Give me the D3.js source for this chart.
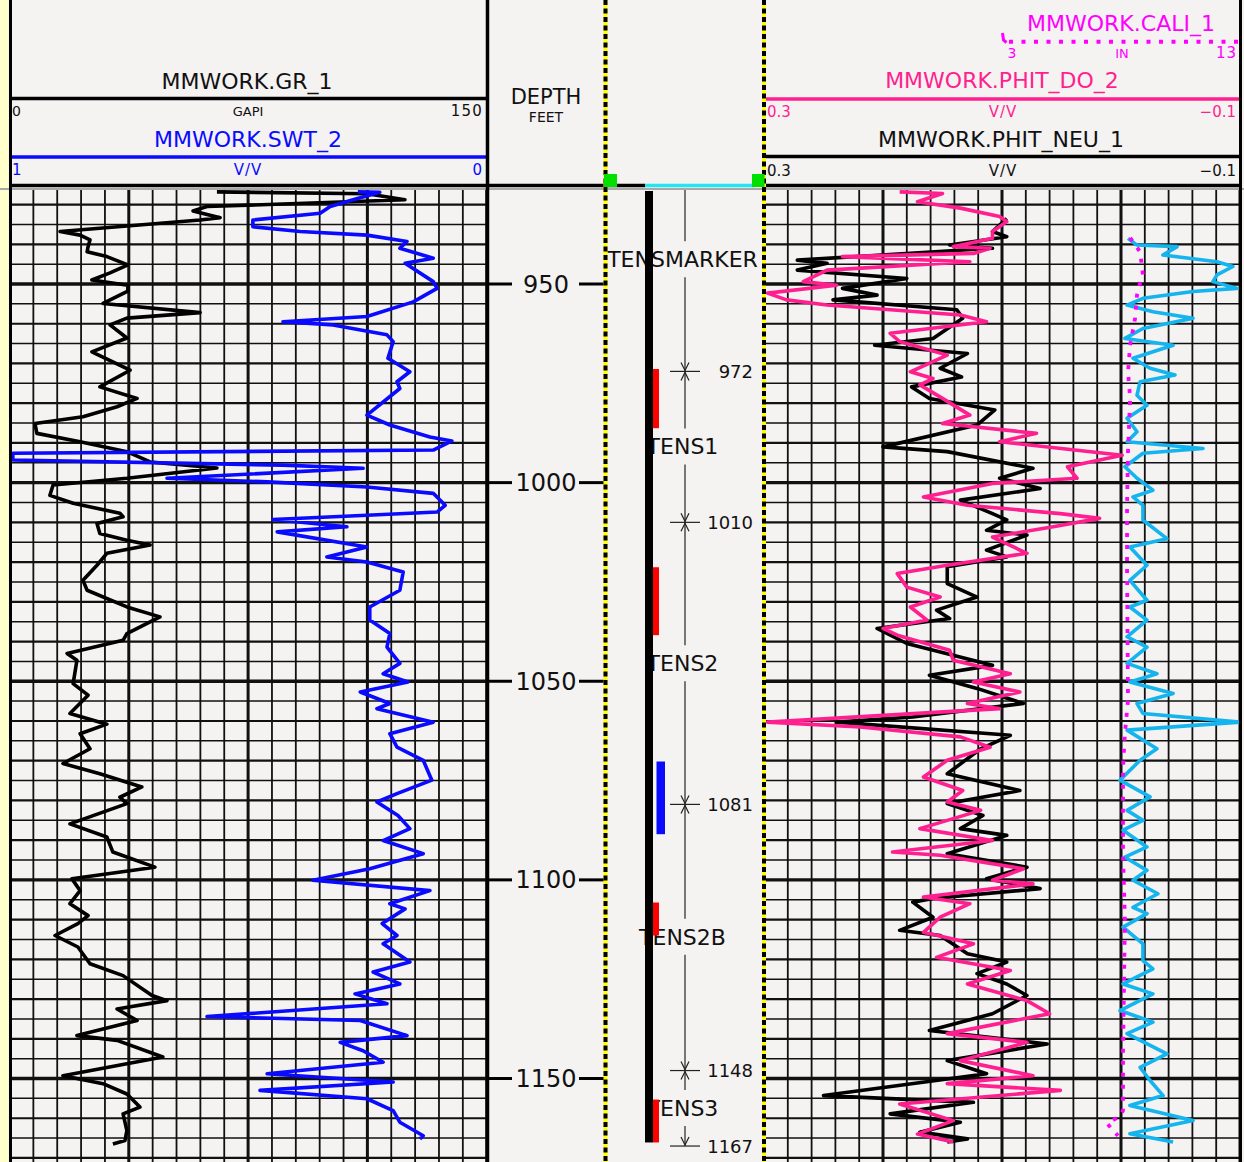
<!DOCTYPE html>
<html>
<head>
<meta charset="utf-8">
<script src="https://cdn.jsdelivr.net/npm/d3@7"></script>
<style>
  html, body { margin: 0; padding: 0; background: #f5f2f2; }
  svg { display: block; }
  text { font-family: "DejaVu Sans", "Liberation Sans", sans-serif; }
</style>
</head>
<body>
<svg id="log" width="1244" height="1162"></svg>
<script>
// ---------------- curve data: [depth (ft), value] ----------------
const grCurve = [
  [926.8,65.2],[927.3,112.4],[928.8,124.3],[930.5,62.1],[931.6,57.7],[933.3,66.2],[933.9,59.9],[936.8,15.9],
  [937.7,22.2],[938.9,25.3],[940.6,24.7],[941.9,24.4],[943.1,30.6],[945.2,37.2],[947.2,31.6],[949.0,25.9],
  [950.3,37.2],[951.8,37.2],[954.9,29.4],[957.2,59.9],[958.6,36.9],[960.3,31.6],[963.6,36.9],[967.1,25.9],
  [971.7,37.9],[975.9,28.4],[978.8,40.1],[980.9,33.8],[983.4,23.1],[985.1,8.0],[987.6,8.6],[989.7,22.2],
  [992.2,36.9],[994.8,44.2],[996.3,65.2],[998.9,36.9],[1000.6,13.7],[1003.2,12.7],[1005.2,20.0],[1007.7,34.7],
  [1008.6,35.7],[1010.3,27.5],[1012.8,28.4],[1014.5,36.9],[1015.7,44.2],[1017.8,30.6],[1020.8,27.5],[1024.6,23.1],
  [1027.1,24.4],[1031.3,36.9],[1033.8,47.3],[1038.0,36.9],[1039.7,35.7],[1043.0,18.1],[1044.7,21.2],[1050.6,20.0],
  [1053.5,24.7],[1058.1,19.0],[1060.8,30.6],[1063.2,22.2],[1067.0,25.3],[1070.7,16.8],[1073.3,28.4],[1076.6,41.6],
  [1079.2,34.7],[1080.8,36.9],[1085.9,19.0],[1089.2,30.6],[1093.0,32.5],[1096.8,45.7],[1099.7,19.6],[1102.7,22.2],
  [1106.0,19.0],[1109.0,24.7],[1111.0,21.5],[1114.0,14.3],[1116.9,21.5],[1121.1,25.3],[1124.1,35.7],[1129.1,44.8],
  [1130.4,49.5],[1132.5,33.8],[1135.4,40.1],[1139.2,21.2],[1140.4,33.8],[1144.6,48.2],[1149.3,16.8],[1151.3,29.4],
  [1153.9,36.9],[1157.2,41.0],[1158.9,35.7],[1163.1,36.9],[1165.6,36.3],[1166.5,32.5]
];

const swtCurve = [
  [926.8,0.270],[926.9,0.224],[928.8,0.280],[930.5,0.328],[932.2,0.349],[933.9,0.490],[935.6,0.490],[936.8,0.391],
  [937.7,0.251],[939.3,0.167],[941.0,0.182],[943.5,0.112],[944.8,0.171],[949.4,0.112],[951.1,0.104],[954.5,0.154],
  [958.2,0.251],[959.5,0.427],[960.3,0.322],[962.8,0.209],[964.5,0.196],[968.7,0.207],[972.1,0.161],[974.6,0.188],
  [976.3,0.182],[983.0,0.251],[985.5,0.203],[988.5,0.119],[989.5,0.073],[991.8,0.112],[992.6,0.993],[994.3,0.993],
  [995.6,0.427],[996.4,0.259],[998.9,0.670],[999.8,0.460],[1001.1,0.251],[1002.7,0.112],[1005.7,0.087],[1007.4,0.104],
  [1008.2,0.251],[1009.3,0.448],[1011.1,0.293],[1012.4,0.439],[1016.2,0.251],[1018.7,0.335],[1020.0,0.251],[1022.5,0.175],
  [1027.1,0.182],[1031.3,0.245],[1034.6,0.245],[1038.0,0.203],[1041.4,0.209],[1045.5,0.182],[1048.1,0.217],[1050.2,0.165],
  [1052.7,0.265],[1055.6,0.203],[1056.9,0.230],[1060.3,0.112],[1063.2,0.203],[1066.6,0.188],[1069.9,0.133],[1074.9,0.115],
  [1078.3,0.188],[1080.4,0.230],[1083.8,0.186],[1087.1,0.161],[1090.1,0.217],[1093.4,0.133],[1097.2,0.245],[1100.1,0.364],
  [1102.7,0.119],[1106.0,0.203],[1107.3,0.171],[1111.0,0.219],[1114.0,0.188],[1116.1,0.217],[1120.7,0.161],[1123.2,0.238],
  [1126.2,0.182],[1128.7,0.276],[1131.2,0.209],[1134.4,0.586],[1135.4,0.265],[1139.2,0.167],[1140.9,0.307],[1143.0,0.259],
  [1145.9,0.217],[1148.8,0.460],[1150.9,0.196],[1153.0,0.475],[1155.1,0.251],[1158.1,0.196],[1161.0,0.182],[1164.4,0.133],
  [1165.2,0.140]
];

const neuCurve = [
  [933.5,0.096],[936.8,0.108],[938.1,0.096],[940.2,0.144],[941.0,0.108],[944.0,0.272],[944.8,0.247],[946.5,0.272],
  [948.6,0.180],[951.1,0.234],[952.8,0.205],[954.0,0.242],[956.5,0.138],[958.6,0.133],[963.7,0.158],[965.4,0.207],
  [967.5,0.129],[971.2,0.152],[973.4,0.134],[975.9,0.176],[978.8,0.161],[981.7,0.106],[985.5,0.121],[991.0,0.200],
  [992.2,0.146],[996.4,0.074],[998.9,0.102],[1001.5,0.068],[1004.4,0.135],[1007.8,0.108],[1009.4,0.096],[1012.0,0.113],
  [1013.2,0.079],[1017.0,0.113],[1018.7,0.096],[1021.2,0.146],[1025.4,0.146],[1028.8,0.121],[1032.1,0.155],[1034.2,0.144],
  [1036.7,0.205],[1040.5,0.180],[1046.0,0.108],[1048.5,0.161],[1051.8,0.121],[1055.6,0.082],[1059.0,0.175],[1060.3,0.239],
  [1063.6,0.093],[1067.0,0.118],[1073.3,0.146],[1077.5,0.085],[1080.8,0.146],[1083.8,0.116],[1087.1,0.135],[1088.8,0.096],
  [1093.4,0.146],[1096.8,0.079],[1099.7,0.113],[1102.2,0.068],[1104.7,0.158],[1105.6,0.175],[1109.4,0.158],[1112.7,0.186],
  [1114.0,0.152],[1118.6,0.129],[1120.7,0.096],[1123.6,0.121],[1126.2,0.096],[1129.1,0.079],[1133.7,0.108],[1137.9,0.161],
  [1141.3,0.062],[1145.5,0.146],[1148.8,0.113],[1154.3,0.250],[1156.0,0.124],[1158.9,0.194],[1161.0,0.135],[1163.5,0.169],
  [1165.2,0.129],[1166.0,0.146]
];

const doCurve = [
  [926.8,0.186],[927.2,0.150],[929.3,0.171],[930.9,0.135],[933.0,0.102],[934.3,0.096],[936.8,0.108],[938.5,0.108],
  [940.6,0.141],[941.0,0.110],[942.3,0.124],[943.1,0.234],[944.4,0.127],[946.5,0.247],[949.4,0.267],[950.3,0.239],
  [952.3,0.297],[954.0,0.281],[955.3,0.247],[957.8,0.135],[959.5,0.113],[962.4,0.194],[964.5,0.186],[967.9,0.146],
  [972.1,0.177],[973.8,0.158],[975.4,0.169],[978.8,0.150],[983.0,0.127],[985.1,0.150],[987.6,0.071],[989.7,0.102],
  [993.1,-0.001],[996.0,0.045],[998.9,0.037],[1000.2,0.108],[1003.6,0.166],[1005.7,0.129],[1007.8,0.051],[1009.0,0.018],
  [1011.1,0.057],[1013.7,0.108],[1017.8,0.079],[1020.8,0.146],[1022.9,0.188],[1026.3,0.180],[1028.8,0.152],[1031.3,0.177],
  [1034.6,0.163],[1036.7,0.200],[1038.4,0.188],[1042.2,0.144],[1044.7,0.141],[1048.1,0.093],[1050.2,0.124],[1052.7,0.085],
  [1055.6,0.129],[1056.9,0.102],[1060.3,0.297],[1061.5,0.219],[1064.0,0.135],[1066.6,0.110],[1069.9,0.146],[1074.1,0.166],
  [1077.5,0.133],[1080.4,0.146],[1082.5,0.118],[1087.1,0.169],[1090.1,0.108],[1093.0,0.192],[1093.8,0.152],[1097.2,0.082],
  [1100.1,0.108],[1101.0,0.074],[1104.3,0.166],[1106.0,0.127],[1109.4,0.152],[1113.2,0.166],[1116.1,0.124],[1119.5,0.155],
  [1122.8,0.093],[1126.2,0.129],[1130.4,0.079],[1133.7,0.060],[1138.7,0.146],[1140.9,0.079],[1145.5,0.135],[1149.3,0.074],
  [1151.3,0.146],[1153.0,0.051],[1156.4,0.186],[1160.6,0.141],[1164.0,0.171],[1166.0,0.141]
];

const caliCurve = [
  [938.4,8.37],[941.9,8.79],[947.7,8.91],[949.7,8.79],[952.8,8.66],[958.6,8.58],[965.4,8.37],[972.2,8.28],
  [978.7,8.37],[992.3,8.28],[1005.7,8.24],[1021.3,8.24],[1054.8,8.28],[1063.1,8.15],[1071.7,8.07],[1093.3,8.07],
  [1110.2,8.15],[1143.7,8.07],[1158.1,8.07],[1159.8,7.86],[1161.3,7.40],[1163.1,7.65],[1164.4,7.86]
];

// second trace plotted on the caliper scale
const auxCurve = [
  [938.5,8.28],[940.2,8.66],[940.6,10.35],[942.7,9.75],[944.4,12.03],[945.6,12.70],[947.7,12.03],[949.4,11.86],
  [951.1,12.87],[951.9,11.02],[953.6,8.91],[955.3,8.24],[957.0,9.33],[958.6,11.02],[961.2,8.91],[963.7,8.15],
  [965.4,10.18],[968.7,8.49],[971.2,9.21],[972.9,10.26],[974.6,8.79],[978.0,8.66],[980.5,9.08],[983.8,8.24],
  [987.2,8.66],[989.7,8.24],[991.4,11.44],[992.6,8.91],[996.0,8.15],[998.9,8.66],[1001.9,9.33],[1003.6,8.49],
  [1005.7,8.91],[1009.4,8.91],[1014.1,9.92],[1016.2,8.36],[1020.8,9.08],[1024.6,8.36],[1029.6,9.08],[1031.3,8.36],
  [1034.6,9.08],[1038.8,8.24],[1041.4,9.08],[1045.5,8.24],[1048.1,9.50],[1050.2,8.36],[1053.1,10.18],[1055.6,8.66],
  [1058.1,8.91],[1060.3,13.0],[1062.3,8.24],[1067.0,9.50],[1069.9,8.79],[1074.9,7.94],[1079.1,9.21],[1082.5,8.24],
  [1085.0,8.91],[1087.5,8.07],[1091.7,9.08],[1094.3,8.15],[1097.6,9.08],[1100.1,8.49],[1103.5,9.54],[1106.9,8.49],
  [1108.5,9.08],[1111.9,8.07],[1116.1,8.91],[1120.3,8.91],[1122.4,9.33],[1126.2,8.07],[1128.7,9.33],[1132.9,7.94],
  [1135.8,9.33],[1138.7,8.24],[1143.8,9.92],[1147.2,8.79],[1150.5,9.21],[1154.3,9.76],[1156.8,8.36],[1160.6,11.02],
  [1163.9,8.36],[1166.0,10.18]
];

// ---------------- depth track / marker data ----------------
const depthLabels = [950, 1000, 1050, 1100, 1150];
const topNames = ["TENSMARKER", "TENS1", "TENS2", "TENS2B", "TENS3"];
const topDepths = [943.8, 990.9, 1045.5, 1114.3, 1157.4];
const thicknessDepths = [972, 1010, 1081, 1148, 1167];
const redZones = [[971.4, 986.3], [1021.3, 1038.4], [1105.7, 1114.0], [1155.3, 1166.1]];
const blueZones = [[1070.2, 1088.5]];

// ---------------- layout ----------------
const W = 1244, H = 1162, PLOT_TOP = 190;
const LEFT = [9.5, 486.7], RIGHT = [764, 1240];
const svg = d3.select("#log");

const y = d3.scaleLinear().domain([950, 1150]).range([284, 1078.5]);
const grX = d3.scaleLinear().domain([0, 150]).range(LEFT);
const swtX = d3.scaleLinear().domain([1, 0]).range(LEFT);
const phiX = d3.scaleLinear().domain([0.3, -0.1]).range(RIGHT);
const caliX = d3.scaleLinear().domain([3, 13]).range([1002.7, 1240]);

const BG = "#f5f2f2";
svg.append("rect").attr("width", W).attr("height", H).attr("fill", BG);
svg.append("rect").attr("x", 0).attr("y", 0).attr("width", 8.5).attr("height", H).attr("fill", "#ffffcc");

// clip regions for the two curve tracks
const defs = svg.append("defs");
defs.append("clipPath").attr("id", "clipL").append("rect")
  .attr("x", LEFT[0]).attr("y", PLOT_TOP).attr("width", LEFT[1] - LEFT[0]).attr("height", H - PLOT_TOP);
defs.append("clipPath").attr("id", "clipR").append("rect")
  .attr("x", RIGHT[0]).attr("y", PLOT_TOP).attr("width", RIGHT[1] - RIGHT[0]).attr("height", H - PLOT_TOP);

// ---------------- grids ----------------
const gridDepths = d3.range(930, 1175, 5).filter(d => y(d) < H + 2);
function drawGrid(g, xScale, values, x0, x1) {
  g.selectAll("line.h").data(gridDepths).join("line")
    .attr("x1", x0).attr("x2", x1)
    .attr("y1", d => y(d)).attr("y2", d => y(d))
    .attr("stroke", "#111")
    .attr("stroke-width", d => d % 50 === 0 ? 3.4 : (d % 10 === 0 ? 2.2 : 1.5));
  g.selectAll("line.v").data(values).join("line")
    .attr("x1", d => xScale(d)).attr("x2", d => xScale(d))
    .attr("y1", PLOT_TOP).attr("y2", H)
    .attr("stroke", "#111")
    .attr("stroke-width", (d, i) => i % 5 === 0 ? 3 : 1.8);
}
const gL = svg.append("g").attr("clip-path", "url(#clipL)");
drawGrid(gL, grX, d3.range(0, 150.01, 7.5), LEFT[0], LEFT[1]);
const gR = svg.append("g").attr("clip-path", "url(#clipR)");
drawGrid(gR, phiX, d3.range(0, 21).map(i => 0.3 - i * 0.02), RIGHT[0], RIGHT[1]);

// ---------------- curves ----------------
function curve(g, data, xScale, color, width, dash) {
  const line = d3.line().x(d => xScale(d[1])).y(d => y(d[0]));
  const p = g.append("path").datum(data).attr("d", line)
    .attr("fill", "none").attr("stroke", color).attr("stroke-width", width)
    .attr("stroke-linejoin", "round");
  if (dash) p.attr("stroke-dasharray", dash);
  return p;
}
curve(gL, grCurve, grX, "#000", 3.6);
curve(gL, swtCurve, swtX, "#0a0aff", 3.6);
curve(gR, neuCurve, phiX, "#000", 3.6);
curve(gR, doCurve, phiX, "#ff1f8f", 3.6);
curve(gR, auxCurve, caliX, "#14b4ee", 3.6);
curve(gR, caliCurve, caliX, "#ff00ff", 3.8, "4,8");

// ---------------- depth track ----------------
const dG = svg.append("g");
depthLabels.forEach(d => {
  dG.append("line").attr("x1", 487).attr("x2", 512).attr("y1", y(d)).attr("y2", y(d))
    .attr("stroke", "#000").attr("stroke-width", 3);
  dG.append("line").attr("x1", 579).attr("x2", 605).attr("y1", y(d)).attr("y2", y(d))
    .attr("stroke", "#000").attr("stroke-width", 3);
  dG.append("text").attr("x", 546).attr("y", y(d) + 8.5).attr("text-anchor", "middle")
    .attr("font-size", 24).attr("fill", "#111").text(d3.format("d")(d));
});

// ---------------- marker track ----------------
const mG = svg.append("g");
const LINE_X = 685, GAP = 18;
const lineBottom = y(thicknessDepths[thicknessDepths.length - 1]);
// thin measuring line, broken around each top name
let segStart = PLOT_TOP;
topDepths.forEach(d => {
  mG.append("line").attr("x1", LINE_X).attr("x2", LINE_X)
    .attr("y1", segStart).attr("y2", y(d) - GAP).attr("stroke", "#222").attr("stroke-width", 1.2);
  segStart = y(d) + GAP;
});
mG.append("line").attr("x1", LINE_X).attr("x2", LINE_X)
  .attr("y1", segStart).attr("y2", lineBottom).attr("stroke", "#222").attr("stroke-width", 1.2);

// top names
topNames.forEach((name, i) => {
  mG.append("text").attr("x", LINE_X - 2.5).attr("y", y(topDepths[i]) + 8)
    .attr("text-anchor", "middle").attr("font-size", 22).attr("fill", "#111").text(name);
});

// thickness ticks with arrows
thicknessDepths.forEach((d, i) => {
  const yy = y(d);
  const last = i === thicknessDepths.length - 1;
  mG.append("line").attr("x1", 670).attr("x2", 700).attr("y1", yy).attr("y2", yy)
    .attr("stroke", "#222").attr("stroke-width", 1.2);
  mG.append("polyline").attr("points", `${LINE_X - 4},${yy - 9} ${LINE_X},${yy - 1} ${LINE_X + 4},${yy - 9}`)
    .attr("fill", "none").attr("stroke", "#222").attr("stroke-width", 1.2);
  if (!last) {
    mG.append("polyline").attr("points", `${LINE_X - 4},${yy + 9} ${LINE_X},${yy + 1} ${LINE_X + 4},${yy + 9}`)
      .attr("fill", "none").attr("stroke", "#222").attr("stroke-width", 1.2);
  }
  mG.append("text").attr("x", 753).attr("y", yy + 6.5).attr("text-anchor", "end")
    .attr("font-size", 18).attr("fill", "#111").text(d);
});

// vertical well bar and zone bars
mG.append("rect").attr("x", 645).attr("y", PLOT_TOP + 1).attr("width", 8)
  .attr("height", y(1166.1) - PLOT_TOP - 1).attr("fill", "#000");
redZones.forEach(z => {
  mG.append("rect").attr("x", 653).attr("y", y(z[0])).attr("width", 6)
    .attr("height", y(z[1]) - y(z[0])).attr("fill", "#ff0000");
});
blueZones.forEach(z => {
  mG.append("rect").attr("x", 656.5).attr("y", y(z[0])).attr("width", 8.5)
    .attr("height", y(z[1]) - y(z[0])).attr("fill", "#0a0aff");
});

// ---------------- headers ----------------
const hG = svg.append("g");
function txt(x, yy, s, size, color, anchor, extra) {
  const t = hG.append("text").attr("x", x).attr("y", yy).attr("font-size", size)
    .attr("fill", color).attr("text-anchor", anchor || "middle").text(s);
  if (extra) t.attr("letter-spacing", extra);
  return t;
}
function hline(x1, x2, yy, color, w) {
  hG.append("line").attr("x1", x1).attr("x2", x2).attr("y1", yy).attr("y2", yy)
    .attr("stroke", color).attr("stroke-width", w);
}

// left track header
txt(247, 89, "MMWORK.GR_1", 22, "#111");
hline(10, 487, 98.5, "#000", 3.5);
txt(12, 115.5, "0", 14, "#111", "start");
txt(248, 115.5, "GAPI", 13, "#111");
txt(483, 115.5, "150", 15, "#111", "end", 1.2);
txt(248, 146.5, "MMWORK.SWT_2", 22, "#0a0aff");
hline(10, 487, 157, "#0a0aff", 3.5);
txt(12, 175, "1", 15, "#0a0aff", "start");
txt(248, 175, "V/V", 15, "#0a0aff", "middle", 1);
txt(482, 175, "0", 15, "#0a0aff", "end");

// depth header
txt(546, 104, "DEPTH", 21, "#111");
txt(546, 121.5, "FEET", 14, "#111");

// right track header
txt(1121, 30.5, "MMWORK.CALI_1", 22, "#ff00ff");
hG.append("line").attr("x1", 1009).attr("x2", 1240).attr("y1", 41.7).attr("y2", 41.7)
  .attr("stroke", "#ff00ff").attr("stroke-width", 4).attr("stroke-dasharray", "4,8.5");
hG.append("polyline").attr("points", "1002.5,33 1003.5,40 1006.5,42.5")
  .attr("fill", "none").attr("stroke", "#ff00ff").attr("stroke-width", 3);
txt(1012, 58, "3", 14, "#ff00ff");
txt(1122, 58, "IN", 13, "#ff00ff");
txt(1237, 58, "13", 15, "#ff00ff", "end", 1);
txt(1002, 88, "MMWORK.PHIT_DO_2", 22, "#ff1f8f");
hline(764, 1240, 99, "#ff1f8f", 3.5);
txt(767, 116.5, "0.3", 15, "#ff1f8f", "start");
txt(1003, 116.5, "V/V", 15, "#ff1f8f", "middle", 1);
txt(1236, 116.5, "\u22120.1", 15, "#ff1f8f", "end");
txt(1001, 146.5, "MMWORK.PHIT_NEU_1", 22, "#111");
hline(764, 1240, 156.5, "#000", 3.5);
txt(767, 175.5, "0.3", 15, "#111", "start");
txt(1003, 175.5, "V/V", 15, "#111", "middle", 1);
txt(1236, 175.5, "\u22120.1", 15, "#111", "end");

// header bottom edge
hline(10, 645, 185.5, "#000", 3.5);
hline(645, 755, 185.5, "#22e6f0", 3.5);
hline(764, 1240, 185.5, "#000", 3.5);
hline(0, W, 189, "#a8a8a8", 2);

// ---------------- track borders ----------------
function vline(x, color, w, dash) {
  const l = svg.append("line").attr("x1", x).attr("x2", x).attr("y1", 0).attr("y2", H)
    .attr("stroke", color).attr("stroke-width", w);
  if (dash) l.attr("stroke-dasharray", dash);
}
vline(10.5, "#000", 3);
vline(487.5, "#000", 3.5);
vline(1240.5, "#000", 3);
[605.5, 764].forEach(x => {
  vline(x, "#ffff00", 4);
  vline(x, "#000", 4, "5,3.5");
});

// header corner markers
svg.append("rect").attr("x", 604).attr("y", 174).attr("width", 13).attr("height", 13).attr("fill", "#00e000");
svg.append("rect").attr("x", 752).attr("y", 174).attr("width", 12.5).attr("height", 13).attr("fill", "#00e000");
</script>
</body>
</html>
